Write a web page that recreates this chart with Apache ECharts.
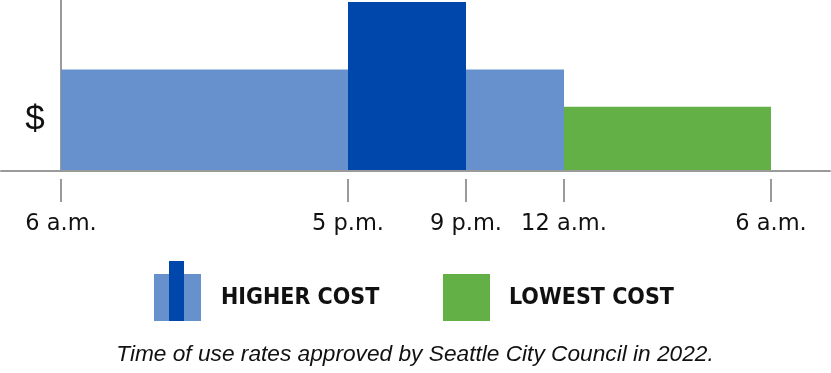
<!DOCTYPE html>
<html><head><meta charset="utf-8">
<script src="https://cdn.jsdelivr.net/npm/echarts@6/dist/echarts.min.js"></script>
<style>html,body{margin:0;padding:0;background:#fff}#c{width:831px;height:373px}</style>
</head><body><div id="c"></div>
<script>
// Tick labels and their positions along the (schematic) time axis
const tickLabels = ['6 a.m.', '5 p.m.', '9 p.m.', '12 a.m.', '6 a.m.'];
const tickPos = [0, 28.7, 40.5, 50.3, 71.0];
// Rate periods: start / end position, relative cost level, rate type
const periodStart = [0, 28.7, 40.5, 50.3];
const periodEnd = [28.7, 40.5, 50.3, 71.0];
const periodCost = [3, 5, 3, 1.9];
const periodType = ['mid', 'peak', 'mid', 'low'];
const legendNames = ['HIGHER COST', 'LOWEST COST'];
const caption = 'Time of use rates approved by Seattle City Council in 2022.';

const colors = { mid: '#6691cc', peak: '#0047ab', low: '#62b046' };
const gray = '#9a9a9a';

const data = periodStart.map((s, i) => [s, periodEnd[i], periodCost[i], i]);

const chart = echarts.init(document.getElementById('c'), null, { renderer: 'canvas' });
chart.setOption({
  animation: false,
  backgroundColor: '#fff',
  grid: { left: 1, right: 1, top: 0, bottom: 202 },
  xAxis: [{
    type: 'value', min: -6.0, max: 76.9,
    axisLine: { show: true, lineStyle: { color: gray, width: 2 } },
    axisTick: { show: false }, axisLabel: { show: false }, splitLine: { show: false }
  }, {
    type: 'value', min: -6.0, max: 76.9, position: 'bottom', offset: 8,
    axisLine: { show: false },
    axisTick: { show: true, customValues: tickPos, length: 23, lineStyle: { color: gray, width: 2 } },
    axisLabel: {
      show: true, customValues: tickPos, margin: 34,
      formatter: (v) => { const i = tickPos.indexOf(v); return i >= 0 ? tickLabels[i] : ''; },
      color: '#111', fontFamily: 'DejaVu Sans, sans-serif', fontSize: 22.5
    },
    splitLine: { show: false }
  }],
  yAxis: {
    type: 'value', min: 0, max: 5.06,
    axisLine: { show: true, onZero: true, lineStyle: { color: gray, width: 2 } },
    axisTick: { show: false }, axisLabel: { show: false }, splitLine: { show: false }
  },
  series: [{
    type: 'custom',
    xAxisIndex: 0,
    data: data,
    encode: { x: [0, 1], y: 2 },
    renderItem: (params, api) => {
      const p0 = api.coord([api.value(0), api.value(2)]);
      const p1 = api.coord([api.value(1), 0]);
      const t = periodType[api.value(3)];
      return {
        type: 'rect',
        shape: { x: p0[0], y: p0[1], width: p1[0] - p0[0], height: p1[1] - p0[1] - 1 },
        style: { fill: colors[t] }
      };
    }
  }],
  graphic: [
    { type: 'text', x: 35, y: 120, style: { text: '$', fontSize: 35, fontFamily: 'Liberation Sans, Arial, sans-serif', fill: '#111', align: 'center', verticalAlign: 'middle' } },
    { type: 'rect', shape: { x: 154, y: 274, width: 47, height: 47 }, style: { fill: colors.mid } },
    { type: 'rect', shape: { x: 169, y: 261, width: 15, height: 60 }, style: { fill: colors.peak } },
    { type: 'text', x: 221, y: 298, style: { text: legendNames[0], fontSize: 23, fontWeight: 'bold', fontFamily: 'DejaVu Sans Condensed, DejaVu Sans, sans-serif', fill: '#111', verticalAlign: 'middle' } },
    { type: 'rect', shape: { x: 443, y: 274, width: 47, height: 47 }, style: { fill: colors.low } },
    { type: 'text', x: 509, y: 298, style: { text: legendNames[1], fontSize: 23, fontWeight: 'bold', fontFamily: 'DejaVu Sans Condensed, DejaVu Sans, sans-serif', fill: '#111', verticalAlign: 'middle' } },
    { type: 'text', x: 415, y: 355, style: { text: caption, fontSize: 22.7, fontStyle: 'italic', fontFamily: 'Liberation Sans, Arial, sans-serif', fill: '#111', align: 'center', verticalAlign: 'middle' } }
  ]
});
</script></body></html>
